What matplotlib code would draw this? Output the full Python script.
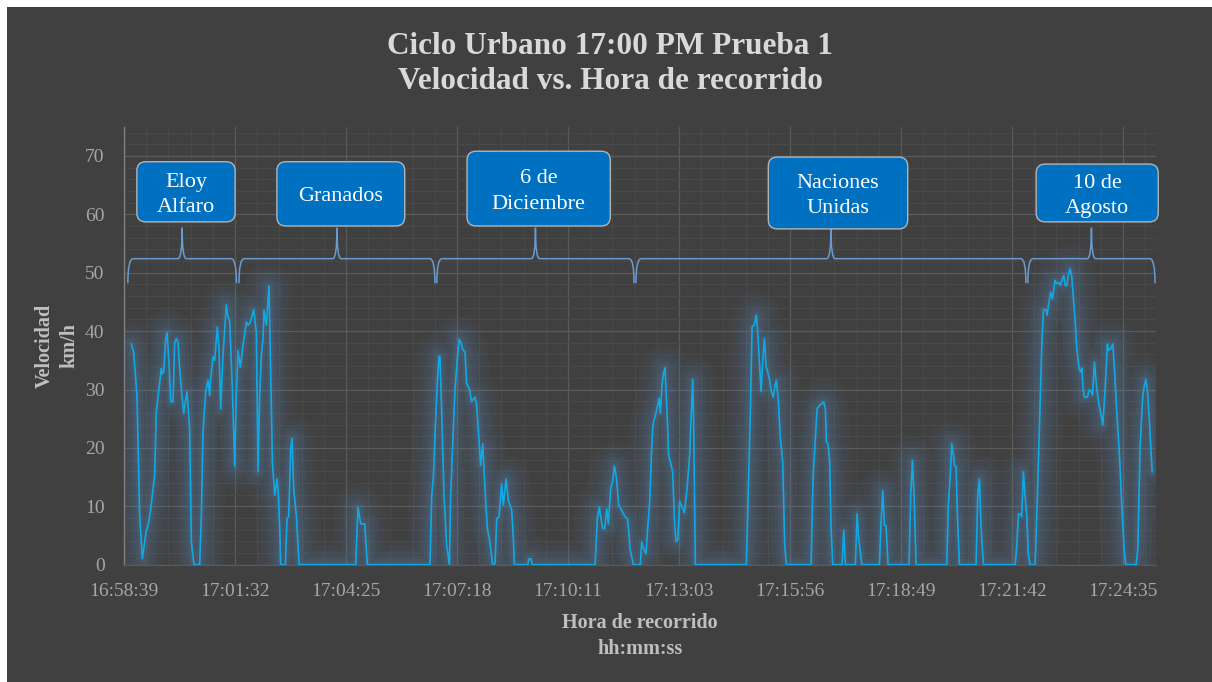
import matplotlib
matplotlib.use("Agg")
import matplotlib.pyplot as plt
from matplotlib.patches import FancyBboxPatch, PathPatch, Rectangle
from matplotlib.path import Path
from matplotlib.ticker import MultipleLocator

# ---------------- data (seconds after 16:58:39, km/h) ----------------
time_s = [11.4, 15, 20.2, 24.4, 28.5, 32.2, 34.8, 37.4, 41, 47.7, 50.3, 54.5, 58.1, 59.7, 61.8,
          64.9, 67, 70, 72.7, 76.3, 78.9, 81.5, 84.1, 86.7, 89.3, 93, 95.5, 98.1, 102.2, 104.8,
          109, 117.8, 120.4, 123, 127.2, 130.8, 133.4, 134.4, 138.6, 141.2, 145.3, 147.9, 150.5,
          154.1, 159.3, 161.9, 164.5, 168.7, 172.3, 174.9, 177.5, 181.1, 185.3, 190.5, 193.1,
          195.7, 198.3, 201.9, 206, 208.6, 211.2, 213.8, 216.4, 218, 221.6, 224.2, 225.8, 227.8,
          231, 234.6, 238.2, 240.3, 242.4, 244, 251.2, 253.8, 256.4, 259.5, 261.6, 264.2, 268.3,
          272.5, 360.7, 364.3, 368.5, 374.7, 378.9,
          476.4, 479, 481.5, 485.2, 487.8, 490.4, 491.9, 494.5, 498.2, 502.3, 506.5, 508.5,
          511.6, 515.3, 518.9, 522, 525.1, 527.2, 530.8, 533.4, 537.6, 541.2, 543.8, 546.4, 549,
          552.1, 555.2, 558.4, 562, 565.6, 568.7, 571.3, 573.9, 577.6, 580.2, 583.8, 587.9,
          590.5, 594.7, 598.3, 603.5, 606.1, 607.7, 628.4, 630.5, 633.6, 635.7, 733.3, 736.9,
          740, 742.1, 745.2, 748.3, 751.4, 754, 757.6, 760.8, 763.4, 766, 768, 770.1, 774.8,
          780, 783.6, 785.7, 787.8, 793,
          803.8, 805.9, 809, 812.6, 815.2, 818.3, 821.4, 823.5, 827.1, 830.8, 832.9, 834.9,
          837.5, 840.1, 842.2, 845.3, 847.9, 850.5, 854.1, 857.2, 859.3, 861.9, 865, 868.7,
          872.3, 876.5, 880.6, 882.7, 885.3, 886.8, 889.4, 968.8, 972.5, 975.1, 977.7, 980.3,
          982.8, 984.4, 986.5, 989.1, 991.7, 994.8, 996.9, 999.5, 1002.1, 1004.6, 1007.8,
          1010.9, 1013.5, 1015.5, 1018.7, 1021.8, 1025.4, 1028.5, 1031.1, 1069.5, 1072.6,
          1076.3, 1078.9, 1083, 1086.6, 1089.2, 1091.8, 1093.4, 1096, 1098.6, 1100.7, 1103.3,
          1117.8, 1120.4, 1123, 1138.5, 1141.1, 1143.7, 1146.3, 1148.4, 1175.9, 1178.5, 1181.1,
          1183.7, 1186.3, 1189.4,
          1222.1, 1224.7, 1227.3, 1229.9, 1233, 1280.8, 1283.4, 1286, 1288.5, 1291.1, 1292.7,
          1295.3, 1297.4, 1300.5, 1326.4, 1329, 1331.6, 1334.2, 1337.9, 1387.2, 1389.8, 1392.4,
          1395, 1397.5, 1400.1, 1402.7, 1405.3, 1407.9, 1410.5, 1418.3, 1421.9, 1425, 1428.7,
          1431.3, 1434.9, 1437, 1439.1, 1442.7, 1445.3, 1447.9, 1449.4, 1452, 1455.2, 1457.7,
          1460.9, 1463, 1465, 1467.6, 1469.7, 1472.8, 1475.4, 1478, 1480.6, 1483.2, 1486.8,
          1488.9, 1491, 1493, 1495.1, 1499.8, 1502.4, 1505, 1507.6, 1510.7, 1514.3, 1518,
          1521.1, 1523.7, 1527.3, 1530.9, 1532.5, 1536.1, 1539.2, 1541.8, 1545.5, 1549.6,
          1553.2, 1556.9, 1559.5, 1575.6, 1578.2, 1581.8, 1586, 1588.5, 1590.6, 1593.2, 1596.3,
          1598.9, 1600.5]

speed_kmh = [37.8, 36.4, 29, 8.4, 1.0, 3.9, 5.9, 6.7, 9, 15.3, 26.1, 30.1, 33.6, 32.7, 33,
             38.7, 39.7, 34.7, 27.9, 27.9, 38.1, 38.7, 38.1, 33.6, 30.1, 25.9, 27.9, 29.6, 23.3, 3.9,
             0, 0, 8.4, 22.7, 29.6, 31.6, 29, 31.3, 35.6, 35, 40.7, 37, 26.7,
             35.8, 44.5, 42.4, 41.7, 30.1, 16.9, 29, 36.7, 33.8, 37.6, 41.6, 41,
             41.3, 42.1, 43.7, 39.8, 15.9, 29, 35.8, 38.7, 43.6, 41, 45.5, 47.7, 36.4,
             17.6, 11.9, 14.7, 11.9, 6.2, 0, 0, 7.9, 8.2, 19.9, 21.6, 13, 8.4,
             0, 0, 9.8, 7, 7, 0,
             0, 11.9, 14.7, 25, 31.3, 35.7, 35.6, 26.1, 11.9, 3.3, 0, 11.9,
             20.4, 30.1, 35.3, 38.6, 37.9, 36.9, 36.4, 31, 30.1, 27.9, 28.4, 28.7, 27.3,
             22.2, 17, 20.7, 13, 6.2, 4.5, 2.2, 0, 0.2, 7.9, 8.2, 13.9,
             10.2, 14.7, 11, 9.3, 4.5, 0, 0, 1, 1, 0, 0, 7.9,
             9.9, 8.2, 6.2, 6.2, 9.6, 7, 13, 14.4, 16.9, 15.3, 13, 10.2, 9.3,
             8.2, 7.9, 5.9, 2.7, 0,
             0, 3.9, 2.7, 1.9, 6.2, 10.7, 19.9, 23.9, 25.6, 27.3, 28.5, 25.9,
             30.7, 33, 33.7, 26.1, 18.7, 17.6, 15.9, 6.7, 4, 4.2, 10.8, 9.9,
             8.9, 13, 18.7, 25, 31.7, 23.9, 0, 0, 15.3, 26.1, 40.7, 40.9,
             41.8, 42.7, 39.8, 34.7, 29.7, 35.8, 38.7, 34.1, 33, 31.9, 29.6,
             28.7, 30.7, 31.6, 27.9, 21.6, 17.6, 3.3, 0, 0, 14.7,
             21.6, 26.7, 27.3, 27.6, 27.9, 26.7, 21, 20.7, 17.6, 6.2, 0,
             0, 5.9, 0, 0, 8.7, 4.5, 2.2, 0, 0, 7.3, 12.7,
             6.7, 6.7, 0,
             0, 11.9, 17.9, 11.9, 0, 0, 10.7, 14.7, 20.7, 18.7, 17,
             16.7, 8.4, 0, 0, 11.9, 14.7, 6.2, 0, 0, 3.3, 8.7,
             8.7, 8.2, 15.9, 11.9, 8.4, 1.6, 0, 0, 11.9, 23.3, 37.6,
             43.7, 43.7, 42.7, 44.4, 46.7, 45.5, 47.5, 48.7, 48.1, 48.3, 47.8,
             49, 49.5, 47.8, 47.8, 49.5, 50.7, 49.3, 45.5, 41.8, 37, 33.6,
             33, 33.7, 30.1, 28.7, 28.7, 29.9, 29.9, 29, 34.7, 30.1, 27.3,
             25.6, 23.9, 30.1, 37.8, 36.7, 37, 37.8, 33.6, 26.1, 18.7,
             10.2, 2.7, 0, 0, 2.7, 20.4, 29, 30.7, 31.7, 29.9, 24.4,
             19.3, 15.9]

tick_labels = ["16:58:39", "17:01:32", "17:04:25", "17:07:18", "17:10:11",
               "17:13:03", "17:15:56", "17:18:49", "17:21:42", "17:24:35"]

stations = ["Eloy\nAlfaro", "Granados", "6 de\nDiciembre", "Naciones\nUnidas", "10 de\nAgosto"]
station_start_s = [6, 179, 487, 797, 1407]
station_end_s = [175, 484, 794, 1404, 1605]

# ---------------- layout (not data) ----------------
W, H, DPI = 1212, 682, 100
TICK_STEP = 172.8
X_MAX = 1606.5
Y_MAX = 75
BG = "#404040"
SERIF = ["Liberation Serif", "DejaVu Serif"]

# callout boxes: (x_left_s, x_right_s, y_bottom, y_top)
boxes = [(20, 173, 58.7, 69.0), (238, 437, 58.0, 69.0), (534, 757, 58.0, 70.8),
         (1003, 1220, 57.5, 69.8), (1420, 1610, 58.7, 68.6)]

fig = plt.figure(figsize=(W / DPI, H / DPI), dpi=DPI, facecolor="white")
fig.patches.append(Rectangle((7 / W, 0), 1 - 7 / W, 1 - 7 / H, transform=fig.transFigure,
                             facecolor=BG, edgecolor="none", zorder=-10))

ax = fig.add_axes([124 / W, (H - 564.7) / H, (1156 - 124) / W, (564.7 - 126.7) / H])
ax.set_facecolor(BG)
ax.set_xlim(0, X_MAX)
ax.set_ylim(0, Y_MAX)

ax.xaxis.set_major_locator(MultipleLocator(TICK_STEP))
ax.xaxis.set_minor_locator(MultipleLocator(TICK_STEP / 5))
ax.yaxis.set_major_locator(MultipleLocator(10))
ax.yaxis.set_minor_locator(MultipleLocator(2))
ax.set_xticks([i * TICK_STEP for i in range(len(tick_labels))])
ax.set_xticklabels(tick_labels)
ax.set_yticks(range(0, 71, 10))

ax.grid(which="major", color="#5A5A5A", linewidth=0.9)
ax.grid(which="minor", color="#4A4A4A", linewidth=0.7)
ax.set_axisbelow(True)

for s in ["top", "right"]:
    ax.spines[s].set_visible(False)
ax.spines["left"].set_color("#7F7F7F")
ax.spines["bottom"].set_color("#595959")
ax.spines["left"].set_linewidth(1.0)
ax.spines["bottom"].set_linewidth(1.0)

ax.tick_params(which="both", length=0)
ax.tick_params(axis="y", pad=14, labelsize=14, labelcolor="#A6A6A6")
ax.tick_params(axis="x", pad=13, labelsize=14, labelcolor="#A6A6A6")
for lab in ax.get_xticklabels() + ax.get_yticklabels():
    lab.set_fontfamily(SERIF)

# glow
for lw, a in [(34, 0.04), (27, 0.045), (20, 0.05), (14, 0.055), (9, 0.065), (5, 0.08)]:
    ax.plot(time_s, speed_kmh, color="#5B9BD5", linewidth=lw, alpha=a,
            solid_joinstyle="round", solid_capstyle="round", zorder=2)
ax.plot(time_s, speed_kmh, color="#0FAAE6", linewidth=1.2, zorder=3)

# braces
yb, yh, yt = 48.2, 52.4, 57.7
rx, rt = 8.0, 6.5
for x0, x1 in zip(station_start_s, station_end_s):
    xc = (x0 + x1) / 2
    verts = [(x0, yb), (x0, yh), (x0 + rx, yh), (xc - rt, yh), (xc, yh), (xc, yt),
             (xc, yh), (xc + rt, yh), (x1 - rx, yh), (x1, yh), (x1, yb)]
    codes = [Path.MOVETO, Path.CURVE3, Path.CURVE3, Path.LINETO, Path.CURVE3, Path.CURVE3,
             Path.CURVE3, Path.CURVE3, Path.LINETO, Path.CURVE3, Path.CURVE3]
    ax.add_patch(PathPatch(Path(verts, codes), facecolor="none", edgecolor="#6A9BD0",
                           linewidth=1.1, zorder=4, clip_on=False))

# callout boxes
px_x = X_MAX / (1156 - 124)
px_y = Y_MAX / (564.7 - 126.7)
for (xl, xr, yb_, yt_), name in zip(boxes, stations):
    box = FancyBboxPatch((xl, yb_), xr - xl, yt_ - yb_,
                         boxstyle=f"round,pad=0,rounding_size={9 * px_x}",
                         mutation_aspect=px_y / px_x,
                         facecolor="#0070C0", edgecolor="#B4B4B4", linewidth=1.0,
                         zorder=5, clip_on=False)
    ax.add_patch(box)
    ax.text((xl + xr) / 2, (yb_ + yt_) / 2 - 3 * px_y, name, ha="center", va="center",
            color="white", fontsize=16, family=SERIF, linespacing=1.45, zorder=6,
            clip_on=False)

fig.text(610 / W, 1 - 64 / H, "Ciclo Urbano 17:00 PM Prueba 1\nVelocidad vs. Hora de recorrido",
         ha="center", va="center", fontsize=22.5, fontweight="bold", color="#D9D9D9",
         family=SERIF, linespacing=1.25)
fig.text(640 / W, 1 - 636 / H, "Hora de recorrido\nhh:mm:ss", ha="center", va="center",
         fontsize=14.5, fontweight="bold", color="#BFBFBF", family=SERIF, linespacing=1.35)
fig.text(57 / W, 1 - 346 / H, "Velocidad\nkm/h", ha="center", va="center", rotation=90,
         fontsize=14.5, fontweight="bold", color="#BFBFBF", family=SERIF, linespacing=1.35)

fig.savefig("out.png", dpi=DPI, facecolor=fig.get_facecolor())
